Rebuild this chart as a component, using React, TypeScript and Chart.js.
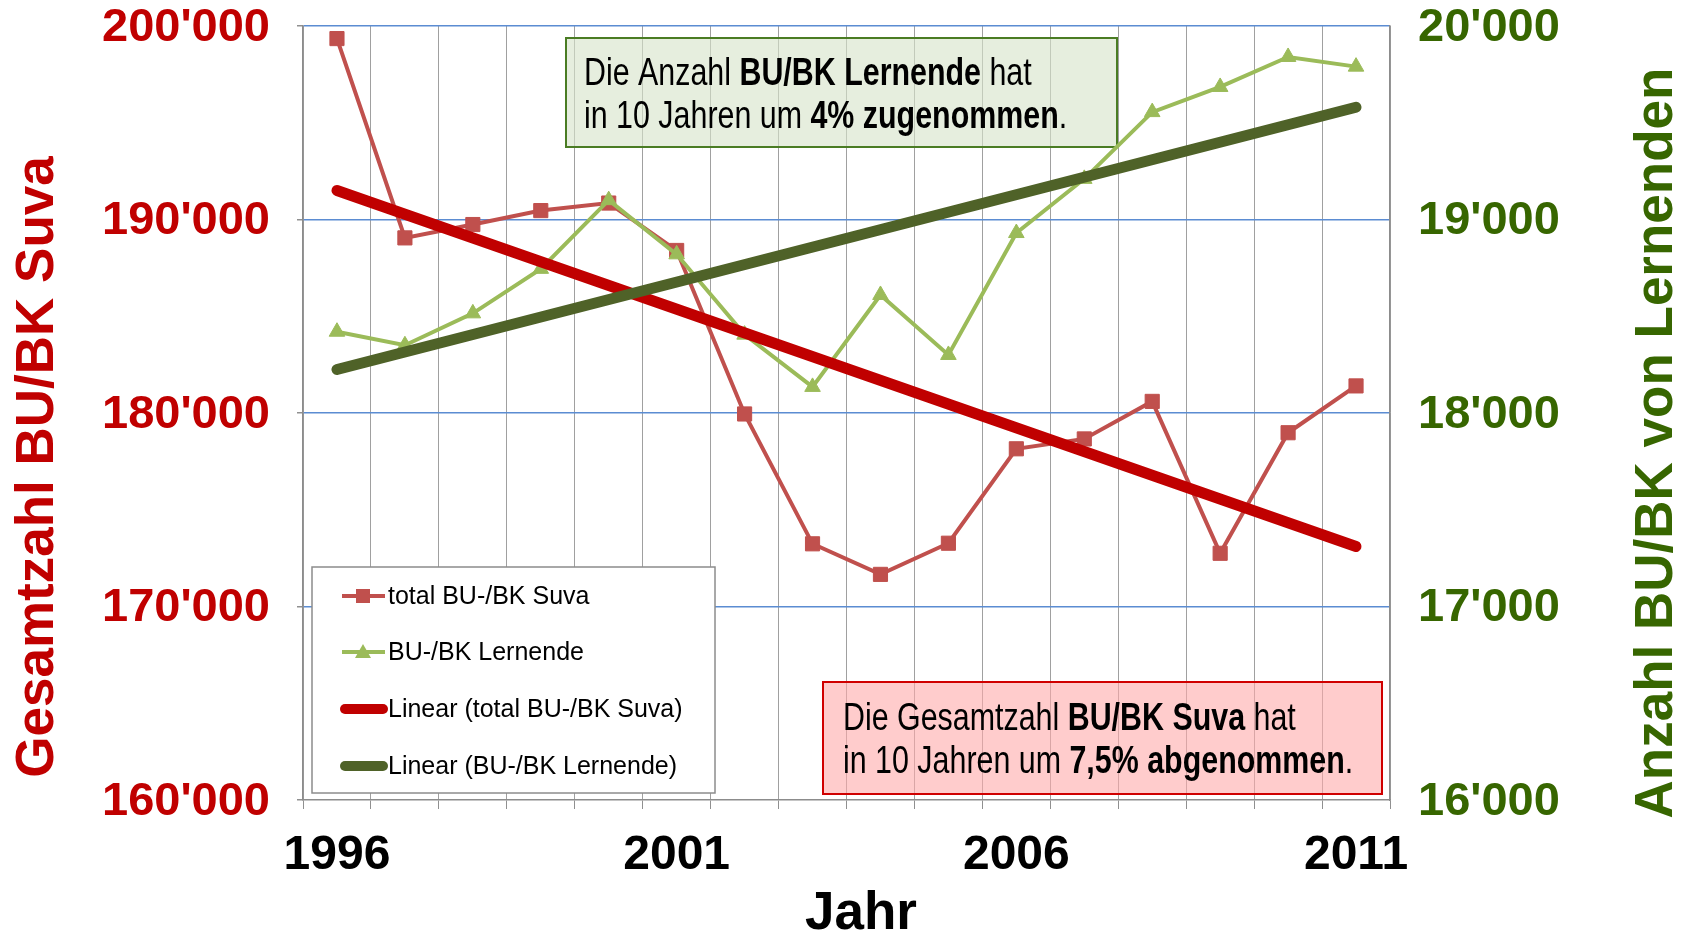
import React, { useEffect, useRef } from "react";
import { Chart, registerables } from "chart.js";

Chart.register(...registerables);

// ---------- data ----------
const years = ["1996", "1997", "1998", "1999", "2000", "2001", "2002", "2003", "2004", "2005", "2006", "2007", "2008", "2009", "2010", "2011"];
const suvaTotal = [199350, 189050, 189740, 190460, 190850, 188400, 179950, 173240, 171660, 173270, 178150, 178660, 180600, 172750, 178980, 181400];
const lernende = [18420, 18350, 18515, 18745, 19100, 18820, 18405, 18135, 18610, 18300, 18930, 19210, 19555, 19685, 19840, 19790];
const suvaTrend = [191500, null, null, null, null, null, null, null, null, null, null, null, null, null, null, 173100];
const lernendeTrend = [18225, null, null, null, null, null, null, null, null, null, null, null, null, null, null, 19580];
const shownYearLabels = ["1996", "2001", "2006", "2011"];

const seriesNames = ["total BU-/BK Suva", "BU-/BK Lernende", "Linear (total BU-/BK Suva)", "Linear (BU-/BK Lernende)"];
const leftTitle = "Gesamtzahl BU/BK Suva";
const rightTitle = "Anzahl BU/BK von Lernenden";
const xTitle = "Jahr";

type Seg = [string, boolean];
const greenNote: Seg[][] = [
  [["Die Anzahl ", false], ["BU/BK Lernende", true], [" hat", false]],
  [["in 10 Jahren um ", false], ["4% zugenommen", true], [".", false]],
];
const redNote: Seg[][] = [
  [["Die Gesamtzahl ", false], ["BU/BK Suva", true], [" hat", false]],
  [["in 10 Jahren um ", false], ["7,5% abgenommen", true], [".", false]],
];

// ---------- styles ----------
const FONT = "'Liberation Sans', Arial, Helvetica, sans-serif";
const RED_AXIS = "#C00000";
const GREEN_AXIS = "#376600";
const RED_SERIES = "#C0504D";
const GREEN_SERIES = "#9BBB59";
const RED_TREND = "#C00000";
const GREEN_TREND = "#4F6228";

const fmt = (v: number) => String(v).replace(/\B(?=(\d{3})+(?!\d))/g, "'");

function drawRich(ctx: CanvasRenderingContext2D, x: number, y: number, segs: Seg[], size: number, sx: number) {
  ctx.save();
  ctx.translate(x, y);
  ctx.scale(sx, 1);
  ctx.textAlign = "left";
  ctx.textBaseline = "alphabetic";
  ctx.fillStyle = "#000";
  let cx = 0;
  for (const [t, b] of segs) {
    ctx.font = `${b ? "bold " : ""}${size}px ${FONT}`;
    ctx.fillText(t, cx, 0);
    cx += ctx.measureText(t).width;
  }
  ctx.restore();
}

const overlayPlugin = {
  id: "overlay",
  beforeDatasetsDraw(chart: any) {
    const ctx: CanvasRenderingContext2D = chart.ctx;
    ctx.save();
    // green note box
    ctx.fillStyle = "rgba(214,227,201,0.62)";
    ctx.fillRect(566, 38, 551, 109);
    ctx.strokeStyle = "#4A7C23";
    ctx.lineWidth = 2;
    ctx.strokeRect(566, 38, 551, 109);
    // red note box
    ctx.fillStyle = "rgba(255,170,170,0.6)";
    ctx.fillRect(823, 682, 559, 112);
    ctx.strokeStyle = "#D00000";
    ctx.lineWidth = 2;
    ctx.strokeRect(823, 682, 559, 112);
    ctx.restore();
    drawRich(ctx, 584, 85, greenNote[0], 38, 0.8);
    drawRich(ctx, 584, 128, greenNote[1], 38, 0.8);
    drawRich(ctx, 843, 730, redNote[0], 38, 0.8);
    drawRich(ctx, 843, 773, redNote[1], 38, 0.8);
  },
  afterDraw(chart: any) {
    const ctx: CanvasRenderingContext2D = chart.ctx;
    ctx.save();
    // axis titles
    ctx.font = `bold 53px ${FONT}`;
    ctx.textAlign = "center";
    ctx.textBaseline = "alphabetic";
    ctx.fillStyle = RED_AXIS;
    ctx.save();
    ctx.translate(53, 467);
    ctx.rotate(-Math.PI / 2);
    ctx.fillText(leftTitle, 0, 0);
    ctx.restore();
    ctx.fillStyle = GREEN_AXIS;
    ctx.save();
    ctx.translate(1672, 443);
    ctx.rotate(-Math.PI / 2);
    ctx.fillText(rightTitle, 0, 0);
    ctx.restore();
    ctx.fillStyle = "#000";
    ctx.font = `bold 53px ${FONT}`;
    ctx.fillText(xTitle, 861, 929);

    // legend
    ctx.fillStyle = "#fff";
    ctx.fillRect(312, 567, 403, 226);
    ctx.strokeStyle = "#8C8C8C";
    ctx.lineWidth = 1.5;
    ctx.strokeRect(312, 567, 403, 226);
    const rows = [596, 652, 709, 766];
    ctx.font = `25px ${FONT}`;
    ctx.textAlign = "left";
    ctx.textBaseline = "middle";
    rows.forEach((y, i) => {
      ctx.lineCap = i < 2 ? "butt" : "round";
      if (i < 2) {
        const col = i === 0 ? RED_SERIES : GREEN_SERIES;
        ctx.strokeStyle = col;
        ctx.lineWidth = 4;
        ctx.beginPath();
        ctx.moveTo(342, y);
        ctx.lineTo(385, y);
        ctx.stroke();
        ctx.fillStyle = col;
        if (i === 0) {
          ctx.fillRect(363 - 7, y - 7, 14, 14);
        } else {
          ctx.beginPath();
          ctx.moveTo(363, y - 8);
          ctx.lineTo(371, y + 6);
          ctx.lineTo(355, y + 6);
          ctx.closePath();
          ctx.fill();
        }
      } else {
        ctx.strokeStyle = i === 2 ? RED_TREND : GREEN_TREND;
        ctx.lineWidth = 10;
        ctx.beginPath();
        ctx.moveTo(345, y);
        ctx.lineTo(383, y);
        ctx.stroke();
      }
      ctx.fillStyle = "#000";
      ctx.fillText(seriesNames[i], 388, y + 1);
    });
    ctx.restore();
  },
};

export default function App() {
  const ref = useRef<HTMLCanvasElement>(null);
  useEffect(() => {
    const chart = new Chart(ref.current as HTMLCanvasElement, {
      type: "line",
      data: {
        labels: years,
        datasets: [
          {
            label: seriesNames[0],
            data: suvaTotal,
            yAxisID: "yL",
            borderColor: RED_SERIES,
            backgroundColor: RED_SERIES,
            borderWidth: 4,
            pointStyle: "rect",
            pointRadius: 10,
            pointBorderWidth: 1,
            pointBorderColor: RED_SERIES,
            pointBackgroundColor: RED_SERIES,
            tension: 0,
            order: 4,
          },
          {
            label: seriesNames[1],
            data: lernende,
            yAxisID: "yR",
            borderColor: GREEN_SERIES,
            backgroundColor: GREEN_SERIES,
            borderWidth: 4,
            pointStyle: "triangle",
            pointRadius: 9,
            pointBorderWidth: 1,
            pointBorderColor: GREEN_SERIES,
            pointBackgroundColor: GREEN_SERIES,
            tension: 0,
            order: 3,
          },
          {
            label: seriesNames[2],
            data: suvaTrend,
            yAxisID: "yL",
            borderColor: RED_TREND,
            borderWidth: 11,
            borderCapStyle: "round",
            pointRadius: 0,
            spanGaps: true,
            order: 2,
          },
          {
            label: seriesNames[3],
            data: lernendeTrend,
            yAxisID: "yR",
            borderColor: GREEN_TREND,
            borderWidth: 11,
            borderCapStyle: "round",
            pointRadius: 0,
            spanGaps: true,
            order: 1,
          },
        ] as any,
      },
      options: {
        responsive: false,
        devicePixelRatio: 1,
        animation: false,
        layout: { padding: { top: 26, left: 0, right: 0, bottom: 0 } },
        plugins: { legend: { display: false }, tooltip: { enabled: false } },
        scales: {
          x: {
            type: "category",
            offset: true,
            grid: { offset: true, color: "#A0A0A0", lineWidth: 1, tickLength: 9, tickColor: "#909090" },
            border: { color: "#8C8C8C", width: 1.5 },
            ticks: {
              autoSkip: false,
              maxRotation: 0,
              minRotation: 0,
              padding: 18,
              color: "#000",
              font: { family: FONT, size: 48, weight: "bold", lineHeight: 1.2 },
              callback: (_v: any, i: number) => (shownYearLabels.includes(years[i]) ? years[i] : ""),
            },
            afterFit: (s: any) => {
              s.height = 135;
              s.paddingLeft = 0;
              s.paddingRight = 0;
            },
          },
          yL: {
            type: "linear",
            position: "left",
            min: 160000,
            max: 200000,
            grid: {
              color: (c: any) => (c.tick && c.tick.value === 160000 ? "rgba(0,0,0,0)" : "#5B8CD2"),
              lineWidth: 1.5,
              tickLength: 6,
              tickColor: "#909090",
            },
            border: { color: "#8C8C8C", width: 1.5 },
            ticks: {
              stepSize: 10000,
              padding: 27,
              labelOffset: 2,
              color: RED_AXIS,
              font: { family: FONT, size: 47, weight: "bold", lineHeight: 1 },
              callback: (v: any) => fmt(Number(v)),
            },
            afterFit: (s: any) => {
              s.width = 303;
              s.paddingTop = 0;
              s.paddingBottom = 0;
            },
          },
          yR: {
            type: "linear",
            position: "right",
            min: 16000,
            max: 20000,
            grid: { drawOnChartArea: false, drawTicks: false },
            border: { color: "#8C8C8C", width: 1.5 },
            ticks: {
              stepSize: 1000,
              padding: 28,
              labelOffset: 2,
              color: GREEN_AXIS,
              font: { family: FONT, size: 47, weight: "bold", lineHeight: 1 },
              callback: (v: any) => fmt(Number(v)),
            },
            afterFit: (s: any) => {
              s.width = 300;
              s.paddingTop = 0;
              s.paddingBottom = 0;
            },
          },
        },
      } as any,
      plugins: [overlayPlugin],
    });
    return () => chart.destroy();
  }, []);
  return (
    <div style={{ position: "fixed", left: 0, top: 0, width: 1690, height: 935, background: "#fff" }}>
      <canvas ref={ref} width={1690} height={935} style={{ display: "block", width: 1690, height: 935 }} />
    </div>
  );
}
